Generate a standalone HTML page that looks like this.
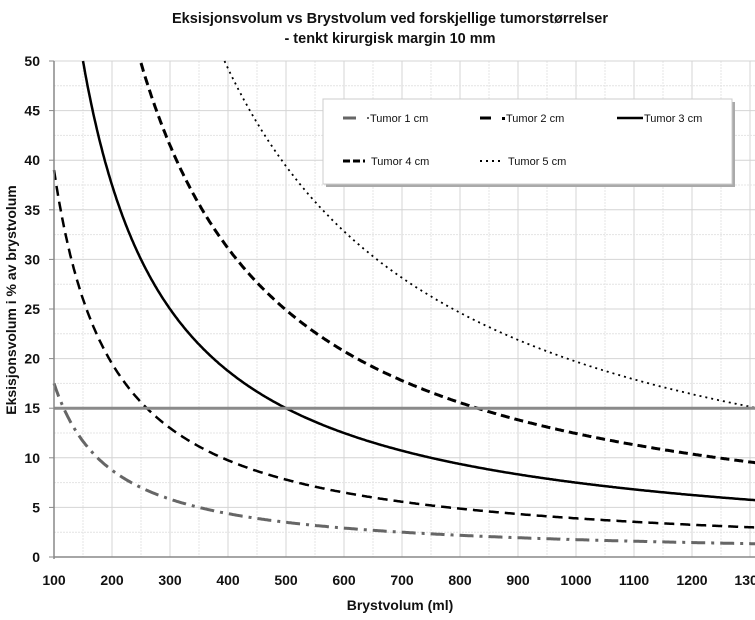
<!DOCTYPE html>
<html><head><meta charset="utf-8"><style>
body{margin:0;background:#fff;}
svg text{font-family:"Liberation Sans",sans-serif;}
</style></head><body>
<svg id="s" width="755" height="615" xmlns="http://www.w3.org/2000/svg">
<text x="390" y="23" text-anchor="middle" font-size="14.5" font-weight="bold" fill="#111">Eksisjonsvolum vs Brystvolum  ved forskjellige tumorstørrelser</text>
<text x="390" y="43" text-anchor="middle" font-size="14.5" font-weight="bold" fill="#111">- tenkt kirurgisk margin 10 mm</text>
<g id="grid"></g>
<g id="curves" fill="none"></g>
<line x1="54" y1="408.2" x2="755" y2="408.2" stroke="#8a8a8a" stroke-width="3"/>
<line x1="54" y1="61" x2="54" y2="559" stroke="#888" stroke-width="1.5"/>
<line x1="54" y1="557" x2="755" y2="557" stroke="#888" stroke-width="1.5"/>
<g id="labels" font-size="14" font-weight="bold" fill="#111"></g>
<text x="400" y="610" text-anchor="middle" font-size="14" font-weight="bold" fill="#111">Brystvolum (ml)</text>
<text transform="translate(16,300) rotate(-90)" text-anchor="middle" font-size="14" font-weight="bold" fill="#111">Eksisjonsvolum i % av brystvolum</text>
<rect x="326" y="102" width="409" height="85" fill="#aaa"/>
<rect x="323" y="99" width="409" height="85" fill="#fff" stroke="#ccc"/>
<g font-size="11" fill="#111">
<line x1="343" y1="118" x2="356" y2="118" stroke="#666" stroke-width="3"/><rect x="367" y="117" width="2" height="2" fill="#666"/>
<text x="370" y="122">Tumor 1 cm</text>
<line x1="480" y1="118" x2="491" y2="118" stroke="#000" stroke-width="3"/><rect x="502" y="117" width="3" height="3" fill="#000"/>
<text x="506" y="122">Tumor 2 cm</text>
<line x1="617" y1="118" x2="643" y2="118" stroke="#000" stroke-width="2.5"/>
<text x="644" y="122">Tumor 3 cm</text>
<line x1="343" y1="161" x2="365" y2="161" stroke="#000" stroke-width="3" stroke-dasharray="7,3"/>
<text x="371" y="165">Tumor 4 cm</text>
<line x1="480" y1="161" x2="502" y2="161" stroke="#000" stroke-width="2" stroke-dasharray="2,4"/>
<text x="508" y="165">Tumor 5 cm</text>
</g>
</svg>
<script>
var X=function(v){return 54+(v-100)*0.58;},Y=function(v){return 557-v*9.92;};
var g=document.getElementById('grid'),h='';
for(var v=100;v<=1350;v+=50){var x=X(v);h+='<line x1="'+x+'" y1="61" x2="'+x+'" y2="557" stroke="'+(v%100?'#e4e4e4':'#d4d4d4')+'" stroke-width="1"'+(v%100?' stroke-dasharray="2,1"':'')+'/>';}
for(var u=0;u<=50;u+=2.5){var y=Y(u);h+='<line x1="54" y1="'+y+'" x2="755" y2="'+y+'" stroke="'+(u%5?'#e4e4e4':'#d4d4d4')+'" stroke-width="1"'+(u%5?' stroke-dasharray="2,1"':'')+'/>';}
g.innerHTML=h;
var l='';for(var u=0;u<=50;u+=5){l+='<text x="40" y="'+(Y(u)+5)+'" text-anchor="end">'+u+'</text>';l+='<line x1="49" y1="'+Y(u)+'" x2="54" y2="'+Y(u)+'" stroke="#888"/>';}
for(var v=100;v<=1300;v+=100){l+='<text x="'+X(v)+'" y="585" text-anchor="middle">'+v+'</text>';}
document.getElementById('labels').innerHTML=l;
var cs=[[1750,'#666',3,'14,6,3,6'],[3900,'#000',2.5,'10,6'],[7500,'#000',2.5,''],[12450,'#000',3,'9,5'],[19700,'#000',1.8,'2,4']];
var c='';cs.forEach(function(k){var d='';for(var v=100;v<=1310;v+=2){var y=k[0]/v;if(y>50)continue;d+=(d?'L':'M')+X(v).toFixed(1)+','+Y(y).toFixed(1);}
c+='<path d="'+d+'" stroke="'+k[1]+'" stroke-width="'+k[2]+'"'+(k[3]?' stroke-dasharray="'+k[3]+'"':'')+'/>';});
document.getElementById('curves').innerHTML=c;
</script>
</body></html>
